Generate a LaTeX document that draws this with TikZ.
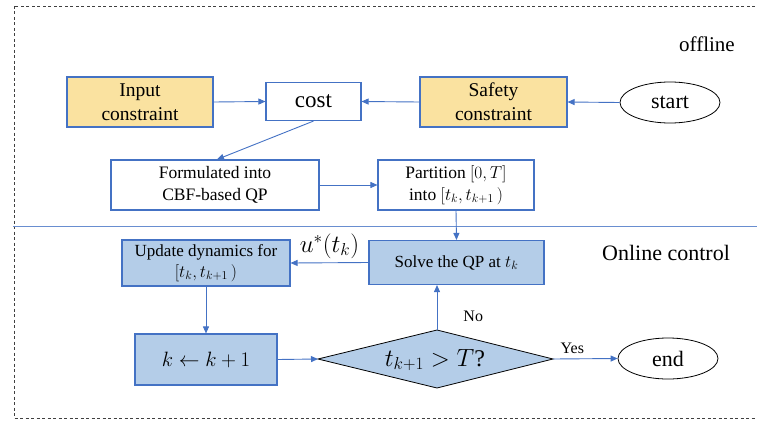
\documentclass[tikz,border=0pt]{standalone}
\usepackage{fontspec}
\setmainfont{Liberation Serif}
\usetikzlibrary{shapes.geometric,arrows.meta}
\definecolor{edgeblue}{HTML}{4472C4}
\definecolor{fillblue}{HTML}{B4CDE8}
\definecolor{fillgold}{HTML}{FAE2A0}
\definecolor{framegray}{HTML}{404040}
\newcommand{\fs}[2]{\fontsize{#1}{#2}\selectfont}
\tikzset{
  box/.style={draw=edgeblue, line width=1.1pt, rectangle, inner sep=0pt, align=center},
  goldbox/.style={box, fill=fillgold},
  bluebox/.style={box, fill=fillblue},
  whitebox/.style={box, fill=white},
  terminal/.style={draw=black, line width=0.8pt, ellipse, inner sep=0pt, fill=white},
  decision/.style={draw=black, line width=0.8pt, fill=fillblue},
  arr/.style={draw=edgeblue, line width=0.9pt, -{Triangle[length=7pt,width=6pt]}},
  lbl/.style={inner sep=0pt}
}
\begin{document}
\begin{tikzpicture}[x=1pt,y=-1pt]
\useasboundingbox (0,0) rectangle (757,420);
% outer dashed frame and the offline/online separator
\draw[framegray, line width=0.7pt, dash pattern=on 3pt off 2.5pt] (14,6) rectangle (770,418);
\draw[edgeblue!80, line width=0.9pt] (13,226.5) -- (770,226.5);

% offline part
\node[goldbox, minimum width=146pt, minimum height=50pt, font=\fs{19.5}{24}] (inp) at (140,102) {Input\\constraint};
\node[whitebox, minimum width=95pt, minimum height=38pt, font=\fs{23}{26}] (cost) at (313.5,101.5) {cost};
\node[goldbox, minimum width=147pt, minimum height=50pt, font=\fs{19.5}{24}] (safe) at (493.5,102) {Safety\\constraint};
\node[terminal, minimum width=100pt, minimum height=41pt, font=\fs{22}{24}] (start) at (670,102.5) {start};
\node[whitebox, minimum width=208pt, minimum height=50pt, font=\fs{17.5}{22}] (form) at (215,185) {Formulated into\\CBF-based QP};
\node[whitebox, minimum width=156pt, minimum height=50pt, font=\fs{17.5}{22}] (part) at (456,185) {Partition $[0,T]$\\into $\big[t_k,t_{k+1}\,)$};
\node[lbl, font=\fs{21}{24}] (offl) at (707,44) {offline};

% online part
\node[bluebox, minimum width=168pt, minimum height=46pt, font=\fs{17}{21}] (upd) at (206,263) {Update dynamics for\\$\big[t_k,t_{k+1}\,)$};
\node[bluebox, minimum width=175pt, minimum height=44pt, font=\fs{17}{21}] (solve) at (456.5,262.5) {Solve the QP at $t_k$};
\node[bluebox, minimum width=142pt, minimum height=51pt, font=\fs{21}{24}] (kinc) at (206,359.5) {$k \leftarrow k+1$};
% decision diamond, drawn from its four corners
\coordinate (decW) at (318,359);
\coordinate (decN) at (437,330);
\coordinate (decE) at (553,359);
\coordinate (decS) at (437,388);
\draw[decision] (decW) -- (decN) -- (decE) -- (decS) -- cycle;
\node[lbl, font=\fs{24}{26}] (dec) at (435,360) {$t_{k+1} > T$?};
\node[terminal, minimum width=100pt, minimum height=41pt, font=\fs{22}{24}] (endn) at (668,358.5) {end};
\node[lbl, font=\fs{22}{24}] (onl) at (666,253) {Online control};

% connectors
\draw[arr] (inp.east) -- (cost.west);
\draw[arr] (safe.west) -- (cost.east);
\draw[arr] (start.west) -- (safe.east);
\draw[arr] (cost.south) -- ([xshift=2pt]form.north);
\draw[arr] (form.east) -- (part.west);
\draw[arr] (part.south) -- (solve.north);
\draw[arr] (solve.west) -- node[lbl, above=4pt, font=\fs{25}{26}] (ustar) {$u^*(t_k)$} (upd.east);
\draw[arr] (upd.south) -- (kinc.north);
\draw[arr] (kinc.east) -- (decW);
\draw[arr] (decN) -- node[lbl, right=26pt, pos=0.3, font=\fs{16}{18}] (no) {No} (decN |- solve.south);
\draw[arr] (decE) -- node[lbl, above=5pt, pos=0.3, font=\fs{16}{18}] (yes) {Yes} (endn.west);
\end{tikzpicture}
\end{document}
